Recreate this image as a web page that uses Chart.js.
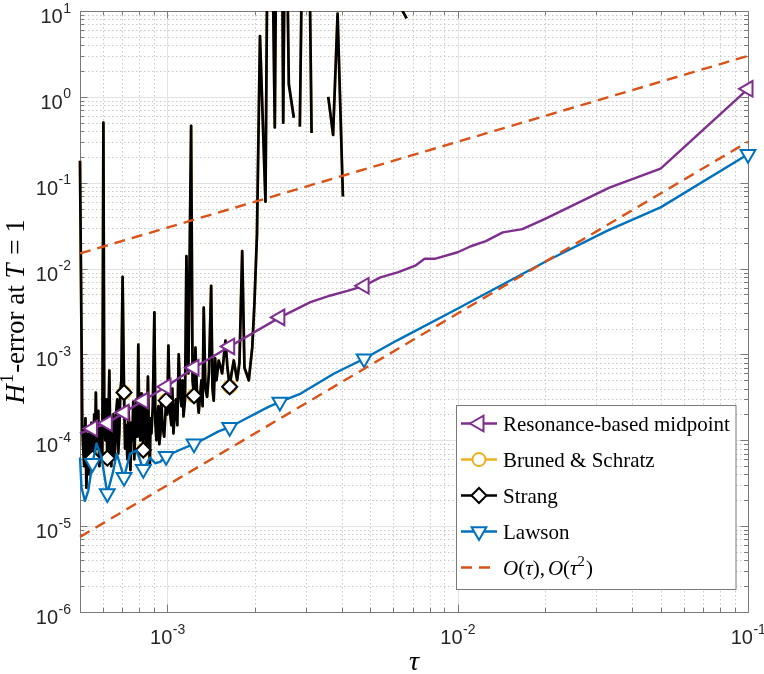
<!DOCTYPE html>
<html>
<head>
<meta charset="utf-8">
<script src="https://cdn.jsdelivr.net/npm/chart.js@4.4.0/dist/chart.umd.min.js"></script>
<style>
  html, body { margin: 0; padding: 0; background: #fff; }
</style>
</head>
<body>
<canvas id="errChart" width="764" height="674"></canvas>
<script>
// step sizes tau and H^1 errors
const midTau = [5.0e-4, 5.52e-4, 6.21e-4, 7.09e-4, 8.26e-4, 9.90e-4, 1.235e-3, 1.639e-3, 2.44e-3,
  3.11e-3, 3.65e-3, 4.17e-3, 4.76e-3, 5.42e-3, 6.25e-3, 7.14e-3, 7.69e-3, 8.33e-3, 0.01, 0.0111,
  0.0125, 0.0143, 0.0167, 0.02, 0.0333, 0.05, 0.1];
const midErr = [1.2e-4, 1.37e-4, 1.58e-4, 2.1e-4, 2.9e-4, 4.2e-4, 7.0e-4, 1.24e-3, 2.7e-3,
  4.06e-3, 4.86e-3, 5.5e-3, 6.3e-3, 7.9e-3, 9.1e-3, 0.0108, 0.013, 0.013, 0.0155, 0.0182,
  0.0209, 0.0264, 0.0288, 0.0379, 0.0875, 0.146, 1.24];

const strangTau = [
  5.0e-4, 5.09e-4, 5.13e-4, 5.17e-4, 5.22e-4, 5.26e-4, 5.30e-4, 5.34e-4, 5.38e-4, 5.43e-4,
  5.47e-4, 5.52e-4, 5.56e-4, 5.60e-4, 5.63e-4, 5.67e-4, 5.70e-4, 5.74e-4, 5.78e-4, 5.83e-4,
  5.87e-4, 5.92e-4, 5.97e-4, 6.02e-4, 6.06e-4, 6.11e-4, 6.16e-4, 6.21e-4, 6.26e-4, 6.31e-4,
  6.36e-4, 6.41e-4, 6.46e-4, 6.51e-4, 6.56e-4, 6.62e-4, 6.67e-4, 6.72e-4, 6.77e-4, 6.83e-4,
  6.88e-4, 6.94e-4, 7.01e-4, 7.09e-4, 7.15e-4, 7.22e-4, 7.28e-4, 7.34e-4, 7.40e-4, 7.46e-4,
  7.51e-4, 7.57e-4, 7.63e-4, 7.69e-4, 7.75e-4, 7.82e-4, 7.88e-4, 7.94e-4, 8.00e-4, 8.07e-4,
  8.12e-4, 8.17e-4, 8.26e-4, 8.33e-4, 8.40e-4, 8.48e-4, 8.57e-4, 8.63e-4, 8.70e-4, 8.75e-4,
  8.81e-4, 8.91e-4, 9.02e-4, 9.09e-4, 9.17e-4, 9.24e-4, 9.31e-4, 9.38e-4, 9.46e-4, 9.53e-4,
  9.61e-4, 9.75e-4, 9.90e-4, 9.99e-4, 1.008e-3, 1.020e-3, 1.032e-3, 1.040e-3, 1.049e-3, 1.059e-3,
  1.070e-3, 1.082e-3, 1.094e-3, 1.106e-3, 1.118e-3, 1.127e-3, 1.136e-3, 1.150e-3, 1.163e-3, 1.181e-3,
  1.207e-3, 1.221e-3, 1.235e-3, 1.249e-3, 1.265e-3, 1.282e-3, 1.310e-3, 1.322e-3, 1.334e-3, 1.352e-3,
  1.370e-3, 1.390e-3, 1.415e-3, 1.430e-3, 1.444e-3, 1.460e-3, 1.476e-3, 1.503e-3, 1.544e-3, 1.585e-3,
  1.610e-3, 1.639e-3, 1.663e-3, 1.693e-3, 1.739e-3, 1.771e-3, 1.810e-3, 1.843e-3, 1.873e-3, 1.907e-3,
  1.960e-3, 1.995e-3, 2.035e-3, 2.084e-3, 2.177e-3, 2.225e-3, 2.275e-3, 2.344e-3, 2.386e-3, 2.473e-3,
  2.506e-3, 2.552e-3, 2.620e-3, 2.726e-3, 2.785e-3, 2.859e-3, 2.944e-3, 3.051e-3, 3.138e-3, 3.343e-3,
  3.582e-3, 3.722e-3, 3.857e-3, 4.023e-3, 5.01e-3, 6.36e-3, 6.67e-3, 7.0e-3];
// null = run blew up (no finite error), values above 10 leave the plot
const strangErr = [
  0.18, 1.5e-4, 8e-5, 5e-5, 1.8e-4, 2.8e-5, 9e-5, 1.2e-4, 4e-5, 6e-5,
  1.6e-4, 6.2e-5, 1.1e-4, 2e-4, 7e-5, 3.6e-4, 1.2e-4, 8e-5, 2.2e-4, 5e-5,
  9e-5, 1.5e-4, 7e-5, 0.5, 2e-4, 1e-4, 3e-4, 6.2e-5, 1.3e-4, 6.5e-4,
  8e-5, 5e-5, 1.5e-4, 2e-4, 6e-5, 1e-4, 2.2e-4, 3e-4, 7e-5, 1.2e-4,
  3.5e-4, 5e-4, 8e-3, 3.6e-4, 8e-5, 1.5e-4, 6e-5, 2.5e-4, 1.2e-4, 4.5e-5,
  1.6e-4, 1e-4, 2.8e-4, 6e-5, 1.4e-4, 3e-4, 1.1e-4, 1.3e-3, 1.5e-4, 1e-4,
  3.5e-4, 2e-4, 7.7e-5, 2.5e-4, 1.5e-4, 9e-5, 5.5e-4, 1.3e-4, 5e-5, 1.8e-4,
  1.2e-4, 2.5e-4, 3.1e-3, 1.6e-4, 1e-4, 1.8e-4, 2.5e-4, 9e-5, 1.2e-4, 3e-4,
  1.5e-4, 1.1e-4, 2.9e-4, 2e-4, 1.27e-3, 2.2e-4, 1.5e-4, 4e-4, 1.2e-4, 2e-4,
  3e-4, 1.5e-4, 1e-3, 3.5e-4, 2.5e-4, 5e-4, 1.9e-4, 3e-4, 0.014, 6e-4,
  0.46, 5e-4, 3.3e-4, 1.2e-3, 3.5e-4, 2.1e-4, 5e-4, 2.5e-4, 3.5e-3, 4e-4,
  3.2e-4, 6e-4, 6.3e-3, 4e-4, 2.9e-4, 9e-4, 5e-4, 8.5e-4, 6e-4, 1.45e-3,
  7e-4, 4.2e-4, 6e-4, 8.5e-4, 5e-4, 8e-4, 0.016, 7e-4, 6e-4, 5e-4,
  1.2e-3, 4e-3, 0.025, 5.1, 0.06, 1000, 1000, 0.44, 1000, 1000,
  0.5, 1000, 1.4, 0.57, null, 0.45, 1000, 1000, 0.38, null,
  1.0, 0.36, 9.3, 0.069, null, 11, 8.2, null];

// Bruned & Schratz coincides with Strang in the figure
const brunedTau = strangTau.slice();
const brunedErr = strangErr.slice();

const lawsonTau = [5.0e-4, 5.06e-4, 5.20e-4, 5.34e-4, 5.52e-4, 5.70e-4, 5.93e-4, 6.21e-4, 6.51e-4, 6.69e-4,
  7.09e-4, 7.44e-4, 7.83e-4, 8.26e-4, 8.71e-4, 9.07e-4, 9.44e-4, 9.90e-4, 1.091e-3, 1.235e-3,
  1.349e-3, 1.50e-3, 1.639e-3, 1.853e-3, 2.23e-3, 2.44e-3, 2.88e-3, 3.74e-3, 4.76e-3, 6.19e-3,
  9.98e-3, 0.0204, 0.0328, 0.05, 0.1];
const lawsonErr = [6.3e-5, 2.8e-5, 1.97e-5, 2.6e-5, 5.4e-5, 9.2e-5, 6.3e-5, 2.4e-5, 4.4e-5, 7e-5,
  3.7e-5, 7e-5, 7.6e-5, 4.6e-5, 6.3e-5, 5.4e-5, 5.6e-5, 6.5e-5, 7.6e-5, 9.1e-5,
  1.05e-4, 1.27e-4, 1.42e-4, 1.77e-4, 2.45e-4, 2.8e-4, 3.5e-4, 5.96e-4, 8.9e-4, 1.46e-3,
  3.4e-3, 0.0124, 0.0277, 0.0516, 0.215];

// reference slopes
const orderTau = [5e-4, 0.1];
const firstOrder = [0.015, 3.0];
const secondOrder = [7.5e-6, 0.3];

// steps where markers are drawn
const markerTau = [5.52e-4, 6.21e-4, 7.09e-4, 8.26e-4, 9.90e-4, 1.235e-3, 1.639e-3, 2.44e-3, 4.76e-3, 0.1];

// axis ticks
const xTicks = [1e-3, 1e-2, 1e-1];
const xTickExp = ['-3', '-2', '-1'];
const yTicks = [1e1, 1e0, 1e-1, 1e-2, 1e-3, 1e-4, 1e-5, 1e-6];
const yTickExp = ['1', '0', '-1', '-2', '-3', '-4', '-5', '-6'];

const SANS = '"Liberation Sans", Arial, sans-serif';
const SERIF = '"Liberation Serif", "Times New Roman", serif';

const toPoints = (tau, err) => tau.map((t, i) => ({ x: t, y: err[i] }));
const isMarker = (v) => markerTau.some((m) => Math.abs(m - v) / m < 0.004);
const markerSize = (r) => (ctx) => (ctx.raw && isMarker(ctx.raw.x) ? r : 0);

// rich text: pieces of {t, it, sup, gap}
const richWidth = (ctx, pieces, size) => {
  let w = 0;
  pieces.forEach((p) => {
    const s = p.sup ? size * 0.7 : size;
    ctx.font = `${p.it ? 'italic ' : ''}${s}px ${SERIF}`;
    w += ctx.measureText(p.t).width + (p.gap || 0);
  });
  return w;
};
const drawRich = (ctx, pieces, x, y, size) => {
  let cx = x;
  pieces.forEach((p) => {
    const s = p.sup ? size * 0.7 : size;
    ctx.font = `${p.it ? 'italic ' : ''}${s}px ${SERIF}`;
    ctx.fillText(p.t, cx, y - (p.sup ? size * 0.4 : 0));
    cx += ctx.measureText(p.t).width + (p.gap || 0);
  });
};

const legendText = {
  'O(τ), O(τ²)': [
    { t: 'O', it: true }, { t: '(' }, { t: 'τ', it: true }, { t: ')' }, { t: ',', gap: 3 },
    { t: 'O', it: true }, { t: '(' }, { t: 'τ', it: true }, { t: '2', sup: true, gap: 1 }, { t: ')' },
  ],
};

// log grid positions k*10^p inside [lo, hi]
const logGrid = (lo, hi) => {
  const out = [];
  for (let p = Math.floor(Math.log10(lo)); p <= Math.ceil(Math.log10(hi)); p++) {
    for (let k = 1; k <= 9; k++) {
      const v = k * Math.pow(10, p);
      if (v >= lo * 0.999 && v <= hi * 1.001) out.push({ v, major: k === 1 });
    }
  }
  return out;
};

const matlabAxes = {
  id: 'matlabAxes',
  beforeDatasetsDraw(chart) {
    const { ctx, chartArea: a, scales: { x, y } } = chart;
    const xg = logGrid(x.min, x.max);
    const yg = logGrid(y.min, y.max);
    ctx.save();
    ctx.lineWidth = 1;

    // minor grid, dotted
    ctx.strokeStyle = '#c9c9c9';
    ctx.setLineDash([1.5, 2.5]);
    ctx.beginPath();
    xg.filter((g) => !g.major).forEach((g) => {
      const px = Math.round(x.getPixelForValue(g.v)) + 0.5;
      ctx.moveTo(px, a.top); ctx.lineTo(px, a.bottom);
    });
    yg.filter((g) => !g.major).forEach((g) => {
      const py = Math.round(y.getPixelForValue(g.v)) + 0.5;
      ctx.moveTo(a.left, py); ctx.lineTo(a.right, py);
    });
    ctx.stroke();

    // major grid
    ctx.setLineDash([]);
    ctx.strokeStyle = '#e2e2e2';
    ctx.beginPath();
    xg.filter((g) => g.major).forEach((g) => {
      const px = Math.round(x.getPixelForValue(g.v)) + 0.5;
      ctx.moveTo(px, a.top); ctx.lineTo(px, a.bottom);
    });
    yg.filter((g) => g.major).forEach((g) => {
      const py = Math.round(y.getPixelForValue(g.v)) + 0.5;
      ctx.moveTo(a.left, py); ctx.lineTo(a.right, py);
    });
    ctx.stroke();

    // box and inward ticks
    ctx.strokeStyle = '#7a7a7a';
    ctx.strokeRect(Math.round(a.left) + 0.5, Math.round(a.top) + 0.5,
      Math.round(a.right - a.left), Math.round(a.bottom - a.top));
    ctx.beginPath();
    xg.forEach((g) => {
      const px = Math.round(x.getPixelForValue(g.v)) + 0.5;
      const len = g.major ? 7.5 : 4;
      ctx.moveTo(px, a.bottom); ctx.lineTo(px, a.bottom - len);
      ctx.moveTo(px, a.top); ctx.lineTo(px, a.top + len);
    });
    yg.forEach((g) => {
      const py = Math.round(y.getPixelForValue(g.v)) + 0.5;
      const len = g.major ? 7.5 : 4;
      ctx.moveTo(a.left, py); ctx.lineTo(a.left + len, py);
      ctx.moveTo(a.right, py); ctx.lineTo(a.right - len, py);
    });
    ctx.stroke();

    // tick labels 10^k
    ctx.fillStyle = '#262626';
    ctx.textBaseline = 'alphabetic';
    ctx.textAlign = 'left';
    xTicks.forEach((v, i) => {
      const px = x.getPixelForValue(v);
      ctx.font = `20px ${SANS}`;
      const wb = ctx.measureText('10').width;
      ctx.font = `14px ${SANS}`;
      const we = ctx.measureText(xTickExp[i]).width;
      const left = px - (wb + we) / 2;
      ctx.font = `20px ${SANS}`;
      ctx.fillText('10', left, a.bottom + 32);
      ctx.font = `14px ${SANS}`;
      ctx.fillText(xTickExp[i], left + wb + 0.5, a.bottom + 21.5);
    });
    yTicks.forEach((v, i) => {
      const py = y.getPixelForValue(v);
      const right = a.left - 9;
      ctx.font = `14px ${SANS}`;
      const we = ctx.measureText(yTickExp[i]).width;
      ctx.fillText(yTickExp[i], right - we, py + 1.5);
      ctx.font = `20px ${SANS}`;
      const wb = ctx.measureText('10').width;
      ctx.fillText('10', right - we - 0.5 - wb, py + 12);
    });

    // axis titles
    ctx.fillStyle = '#000';
    const tauPieces = [{ t: 'τ', it: true }];
    const tw = richWidth(ctx, tauPieces, 28);
    drawRich(ctx, tauPieces, (a.left + a.right) / 2 - tw / 2, 670, 28);

    const yPieces = [
      { t: 'H', it: true, gap: 1 }, { t: '1', sup: true, gap: 1 }, { t: '-error at ' },
      { t: 'T', it: true, gap: 2 }, { t: ' = ' }, { t: '1' },
    ];
    const yw = richWidth(ctx, yPieces, 27);
    ctx.translate(24, (a.top + a.bottom) / 2);
    ctx.rotate(-Math.PI / 2);
    drawRich(ctx, yPieces, -yw / 2, 0, 27);
    ctx.restore();
  },
  afterDraw(chart) {
    const { ctx } = chart;
    const box = { left: 456.5, top: 405.5, width: 279.5, height: 184 };
    ctx.save();
    ctx.fillStyle = '#fff';
    ctx.fillRect(box.left, box.top, box.width, box.height);
    ctx.strokeStyle = '#7a7a7a';
    ctx.lineWidth = 1;
    ctx.strokeRect(box.left, box.top, box.width, box.height);

    const entries = chart.data.datasets.filter((d) => d.inLegend);
    entries.forEach((d, i) => {
      const cy = 423.5 + i * 36;
      ctx.strokeStyle = d.borderColor;
      ctx.lineWidth = 2.4;
      ctx.setLineDash(d.borderDash || []);
      ctx.beginPath();
      ctx.moveTo(461, cy);
      ctx.lineTo(d.borderDash ? 490 : 497, cy);
      ctx.stroke();
      ctx.setLineDash([]);
      if (d.legendRadius) {
        ctx.fillStyle = '#fff';
        ctx.lineWidth = d.pointBorderWidth;
        Chart.helpers.drawPoint(ctx, {
          pointStyle: d.pointStyle,
          rotation: d.pointRotation || 0,
          radius: d.legendRadius,
          borderWidth: d.pointBorderWidth,
        }, 479, cy);
      }
      ctx.fillStyle = '#000';
      ctx.textBaseline = 'alphabetic';
      ctx.textAlign = 'left';
      drawRich(ctx, legendText[d.label] || [{ t: d.label }], 503, cy + 7, 21);
    });
    ctx.restore();
  },
};

new Chart('errChart', {
  type: 'scatter',
  data: {
    datasets: [
      {
        label: 'Resonance-based midpoint',
        inLegend: true,
        data: toPoints(midTau, midErr),
        showLine: true,
        borderColor: '#7E2F8E',
        borderWidth: 2.4,
        borderJoinStyle: 'round',
        pointStyle: 'triangle',
        pointRotation: 270,
        pointRadius: markerSize(9),
        legendRadius: 9,
        pointBackgroundColor: '#fff',
        pointBorderColor: '#7E2F8E',
        pointBorderWidth: 2,
        clip: false,
        order: 3,
      },
      {
        label: 'Bruned & Schratz',
        inLegend: true,
        data: toPoints(brunedTau, brunedErr),
        showLine: true,
        spanGaps: false,
        borderColor: '#EDB120',
        borderWidth: 2.7,
        borderJoinStyle: 'round',
        pointStyle: 'circle',
        pointRadius: markerSize(6.5),
        legendRadius: 6.5,
        pointBackgroundColor: '#fff',
        pointBorderColor: '#EDB120',
        pointBorderWidth: 2,
        clip: { left: 3, top: 0, right: 0, bottom: 0 },
        order: 5,
      },
      {
        label: 'Strang',
        inLegend: true,
        data: toPoints(strangTau, strangErr),
        showLine: true,
        spanGaps: false,
        borderColor: '#000000',
        borderWidth: 2.7,
        borderJoinStyle: 'round',
        pointStyle: 'rectRot',
        pointRadius: markerSize(7.5),
        legendRadius: 7.5,
        pointBackgroundColor: '#fff',
        pointBorderColor: '#000000',
        pointBorderWidth: 2,
        clip: { left: 3, top: 0, right: 0, bottom: 0 },
        order: 4,
      },
      {
        label: 'Lawson',
        inLegend: true,
        data: toPoints(lawsonTau, lawsonErr),
        showLine: true,
        borderColor: '#0072BD',
        borderWidth: 2.4,
        borderJoinStyle: 'round',
        pointStyle: 'triangle',
        pointRotation: 180,
        pointRadius: markerSize(8.5),
        legendRadius: 8.5,
        pointBackgroundColor: '#fff',
        pointBorderColor: '#0072BD',
        pointBorderWidth: 2,
        clip: false,
        order: 2,
      },
      {
        label: 'O(τ), O(τ²)',
        inLegend: true,
        data: toPoints(orderTau, firstOrder),
        showLine: true,
        borderColor: '#D95319',
        borderWidth: 2.4,
        borderDash: [11, 7],
        pointRadius: 0,
        clip: false,
        order: 1,
      },
      {
        label: 'O(τ²)',
        data: toPoints(orderTau, secondOrder),
        showLine: true,
        borderColor: '#D95319',
        borderWidth: 2.4,
        borderDash: [11, 7],
        pointRadius: 0,
        clip: false,
        order: 1,
      },
    ],
  },
  options: {
    responsive: false,
    animation: false,
    events: [],
    layout: { padding: { left: 80, top: 9.5, right: 16, bottom: 62 } },
    scales: {
      x: { type: 'logarithmic', min: 5e-4, max: 0.1, display: false },
      y: { type: 'logarithmic', min: 1e-6, max: 10, display: false },
    },
    plugins: {
      legend: { display: false },
      tooltip: { enabled: false },
    },
  },
  plugins: [matlabAxes],
});
</script>
</body>
</html>
